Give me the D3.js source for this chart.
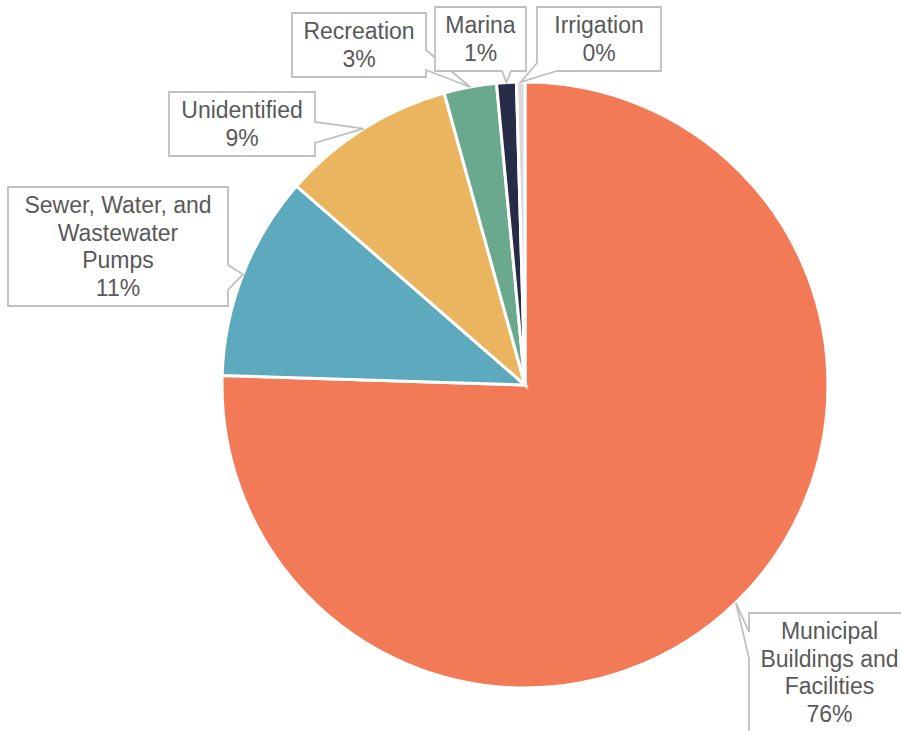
<!DOCTYPE html>
<html><head><meta charset="utf-8">
<script src="https://cdn.jsdelivr.net/npm/d3@7"></script>
<style>body{margin:0;background:#fff}</style>
</head><body>
<svg id="c" width="901" height="731"></svg>
<script>
const categories = ["Municipal Buildings and Facilities","Sewer, Water, and Wastewater Pumps","Unidentified","Recreation","Marina","Irrigation"];
const values = [75.5, 10.9, 9.3, 2.8, 1.05, 0.45];
const colors = ["#F27A56","#5DA9BD","#EBB45E","#6AA98E","#262C48","#D9D9D9"];

// callout box layout (x, y, width, max text width, pointer side and base offsets along that side)
const labelBoxes = [
  {x:749, y:613, w:161, maxW:150, side:"left",   a:19, b:45},
  {x:8,   y:187, w:220, maxW:194, side:"right",  a:78, b:103},
  {x:169, y:92,  w:146, maxW:140, side:"right",  a:30, b:51},
  {x:292, y:13,  w:134, maxW:130, side:"right",  a:37, b:57},
  {x:435, y:7,   w:91,  maxW:90,  side:"bottom", a:67, b:76},
  {x:537, y:7,   w:124, maxW:120, side:"corner", a:56, b:20}
];

const svg = d3.select("#c");
const cx = 525, cy = 385, R = 303;
const total = d3.sum(values);
const data = categories.map((c,i)=>({name:c, value:values[i], color:colors[i]}));

const pie = d3.pie().sort(null).value(d=>d.value).startAngle(0).endAngle(2*Math.PI);
const arcs = pie(data);
const arc = d3.arc().innerRadius(0).outerRadius(R);
const edgeArc = d3.arc().innerRadius(R).outerRadius(R);

const g = svg.append("g").attr("transform",`translate(${cx},${cy})`);
g.selectAll("path").data(arcs).join("path")
  .attr("d", arc)
  .attr("fill", d=>d.data.color)
  .attr("stroke","#fff").attr("stroke-width",3).attr("stroke-linejoin","miter");

const fontSize = 23, lineH = 27.5;
const measure = svg.append("text").attr("font-family","'Liberation Sans', Arial, sans-serif").attr("font-size",fontSize).attr("visibility","hidden");
function textW(s){ measure.text(s); return measure.node().getComputedTextLength(); }
function wrap(s, maxW){
  const words = s.split(" "); const lines=[]; let cur="";
  words.forEach(w=>{
    const t = cur ? cur+" "+w : w;
    if (cur && textW(t) > maxW){ lines.push(cur); cur = w; } else cur = t;
  });
  if (cur) lines.push(cur);
  return lines;
}

const lg = svg.append("g");
arcs.forEach((d,i)=>{
  const b = labelBoxes[i];
  const lines = wrap(d.data.name, b.maxW);
  lines.push(Math.round(d.data.value/total*100) + "%");
  const h = lines.length*lineH + 9;
  const c = edgeArc.centroid(d);
  const tip = [cx + c[0], cy + c[1]];
  const L=b.x, T=b.y, Rr=b.x+b.w, B=b.y+h;
  let pts;
  if (b.side==="right") pts=[[L,T],[Rr,T],[Rr,T+b.a],tip,[Rr,T+b.b],[Rr,B],[L,B]];
  else if (b.side==="left") pts=[[L,T],[Rr,T],[Rr,B],[L,B],[L,T+b.b],tip,[L,T+b.a]];
  else if (b.side==="bottom") pts=[[L,T],[Rr,T],[Rr,B],[L+b.b,B],tip,[L+b.a,B],[L,B]];
  else pts=[[L,T],[Rr,T],[Rr,B],[L+b.b,B],tip,[L,T+b.a]];
  lg.append("path").attr("d", d3.line()(pts)+"Z")
    .attr("fill","#fff").attr("stroke","#BFBFBF").attr("stroke-width",1.8).attr("stroke-linejoin","miter");
  const t = lg.append("text").attr("font-family","'Liberation Sans', Arial, sans-serif")
    .attr("font-size",fontSize).attr("fill","#595959").attr("text-anchor","middle");
  lines.forEach((s,k)=>{
    t.append("tspan").attr("x", L + b.w/2).attr("y", T + 26 + k*lineH).text(s);
  });
});
measure.remove();
</script>
</body></html>
